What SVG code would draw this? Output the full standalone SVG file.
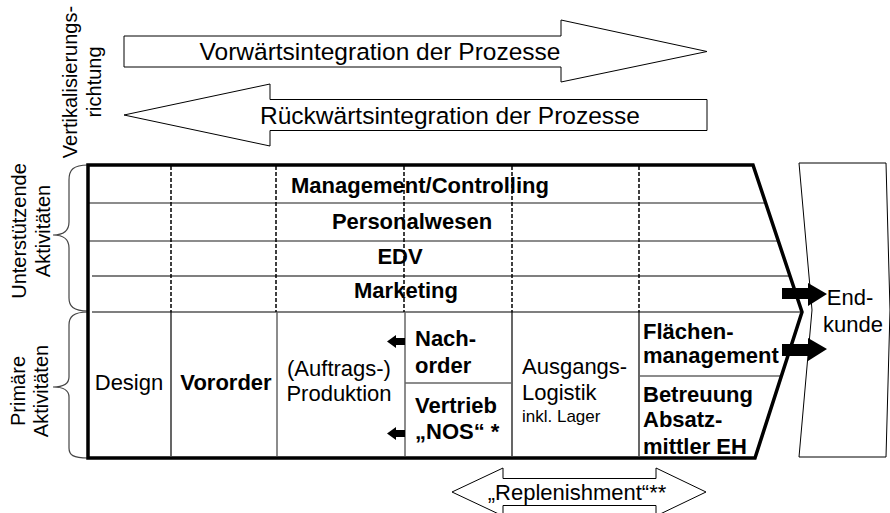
<svg xmlns="http://www.w3.org/2000/svg" width="890" height="513" viewBox="0 0 890 513">
<style>
text{font-family:"Liberation Sans",Arial,sans-serif;fill:#000}
.big{font-size:24.5px}
.lbl{font-size:22px}
.b{font-weight:bold}
.rot{font-size:20px}
.sm{font-size:17px}
.outline{fill:#fff;stroke:#000;stroke-width:1}
.frame{fill:none;stroke:#000;stroke-width:3.5;stroke-linejoin:miter}
.ln{stroke:#000;stroke-width:1.2;fill:none}
.gl{stroke:#666;stroke-width:1.5;fill:none}
.dash{stroke:#000;stroke-width:1.5;stroke-dasharray:4 2;fill:none}
.brace{stroke:#444;stroke-width:1.2;fill:none}
.blk{fill:#000;stroke:none}
</style>
<rect width="890" height="513" fill="#fff"/>

<g id="vorwaerts">
<polygon class="outline" points="124,36 561,36 561,20 707,51.5 561,82 561,67 124,67"/>
<text class="big" x="380" y="60" text-anchor="middle">Vorwärtsintegration der Prozesse</text>
</g>
<g id="rueckwaerts">
<polygon class="outline" points="707,99.5 270,99.5 270,84 124,115 270,146 270,130.5 707,130.5"/>
<text class="big" x="450" y="124" text-anchor="middle">Rückwärtsintegration der Prozesse</text>
</g>
<g id="vertikal-label">
<text class="rot" transform="translate(77,82) rotate(-90)" text-anchor="middle">Vertikalisierungs-</text>
<text class="rot" transform="translate(101,82) rotate(-90)" text-anchor="middle">richtung</text>
</g>
<g id="unterstuetzende-label">
<path class="brace" d="M88,165 C73,165 69,170 69,180 L69,222 C69,230 65,235 53,235 C65,235 69,240 69,248 L69,298 C69,306 73,311 88,311"/>
<text class="rot" transform="translate(26,231) rotate(-90)" text-anchor="middle">Unterstützende</text>
<text class="rot" transform="translate(50,231) rotate(-90)" text-anchor="middle">Aktivitäten</text>
</g>
<g id="primaere-label">
<path class="brace" d="M88,312 C73,312 69,317 69,325 L69,377 C69,383 65,387 53,387 C65,387 69,391 69,397 L69,448 C69,455 73,458 88,458"/>
<text class="rot" transform="translate(25,391) rotate(-90)" text-anchor="middle">Primäre</text>
<text class="rot" transform="translate(48,391) rotate(-90)" text-anchor="middle">Aktivitäten</text>
</g>

<g id="endkunde">
<polygon class="outline" points="799,163 886,163 890,310 886,457 799,457 812,310"/>
<text class="lbl" x="850" y="305" text-anchor="middle">End-</text>
<text class="lbl" x="853" y="332" text-anchor="middle">kunde</text>
</g>

<g id="grid">
<line class="gl" x1="88" y1="203" x2="765" y2="203"/>
<line class="gl" x1="88" y1="241" x2="777" y2="241"/>
<line class="ln" x1="92" y1="276" x2="789" y2="276"/>
<line class="ln" x1="92" y1="312" x2="800" y2="312"/>
<line class="dash" x1="171" y1="166" x2="171" y2="312"/>
<line class="dash" x1="276" y1="166" x2="276" y2="312"/>
<line class="dash" x1="404" y1="166" x2="404" y2="312"/>
<line class="dash" x1="512" y1="166" x2="512" y2="312"/>
<line class="dash" x1="639" y1="166" x2="639" y2="312"/>
<line class="ln" x1="171" y1="312" x2="171" y2="456"/>
<line class="gl" x1="277" y1="312" x2="277" y2="456"/>
<line class="gl" x1="405" y1="312" x2="405" y2="456"/>
<line class="ln" x1="512" y1="312" x2="512" y2="456"/>
<line class="ln" x1="639" y1="312" x2="639" y2="456"/>
<line class="gl" x1="405" y1="383" x2="512" y2="383"/>
<line class="gl" x1="639" y1="376" x2="780" y2="376"/>
</g>

<g id="support-rows">
<text class="lbl b" x="420" y="193" text-anchor="middle">Management/Controlling</text>
<text class="lbl b" x="412" y="229" text-anchor="middle">Personalwesen</text>
<text class="lbl b" x="400" y="264" text-anchor="middle">EDV</text>
<text class="lbl b" x="406" y="298" text-anchor="middle">Marketing</text>
</g>

<g id="design"><text class="lbl" x="129" y="390" text-anchor="middle">Design</text></g>
<g id="vororder"><text class="lbl b" x="226" y="390" text-anchor="middle">Vororder</text></g>
<g id="produktion">
<text class="lbl" x="339" y="376" text-anchor="middle">(Auftrags-)</text>
<text class="lbl" x="339" y="401" text-anchor="middle">Produktion</text>
</g>
<g id="nachorder">
<text class="lbl b" x="415" y="346">Nach-</text>
<text class="lbl b" x="415" y="373">order</text>
</g>
<g id="vertrieb">
<text class="lbl b" x="415" y="413">Vertrieb</text>
<text class="lbl b" x="415" y="439">„NOS“ *</text>
</g>
<g id="ausgangslogistik">
<text class="lbl" x="522" y="374">Ausgangs-</text>
<text class="lbl" x="522" y="400">Logistik</text>
<text class="sm" x="522" y="422">inkl. Lager</text>
</g>
<g id="flaechenmanagement">
<text class="lbl b" x="643" y="339">Flächen-</text>
<text class="lbl b" x="643" y="363">management</text>
</g>
<g id="betreuung">
<text class="lbl b" x="643" y="402">Betreuung</text>
<text class="lbl b" x="643" y="427">Absatz-</text>
<text class="lbl b" x="643" y="454">mittler EH</text>
</g>

<g id="frame">
<polygon class="frame" points="88,165 753,165 802,312 755,458 88,458"/>
</g>

<g id="connectors">
<polygon class="blk" points="782,288 808,288 808,283 827,294 808,306 808,299 782,299"/>
<polygon class="blk" points="782,344 808,344 808,338 827,349 808,361 808,356 782,356"/>
<polygon class="blk" points="405,338 396,338 396,335 387,341.5 396,348 396,345 405,345"/>
<polygon class="blk" points="405,430 396,430 396,427 387,433.5 396,440 396,437 405,437"/>
</g>

<g id="replenishment">
<polygon class="outline" points="452,492 503,468 503,478.5 656,478.5 656,468 706,492 656,516 656,505.5 503,505.5 503,516"/>
<text class="lbl" x="577" y="500" text-anchor="middle">„Replenishment“**</text>
</g>
</svg>
